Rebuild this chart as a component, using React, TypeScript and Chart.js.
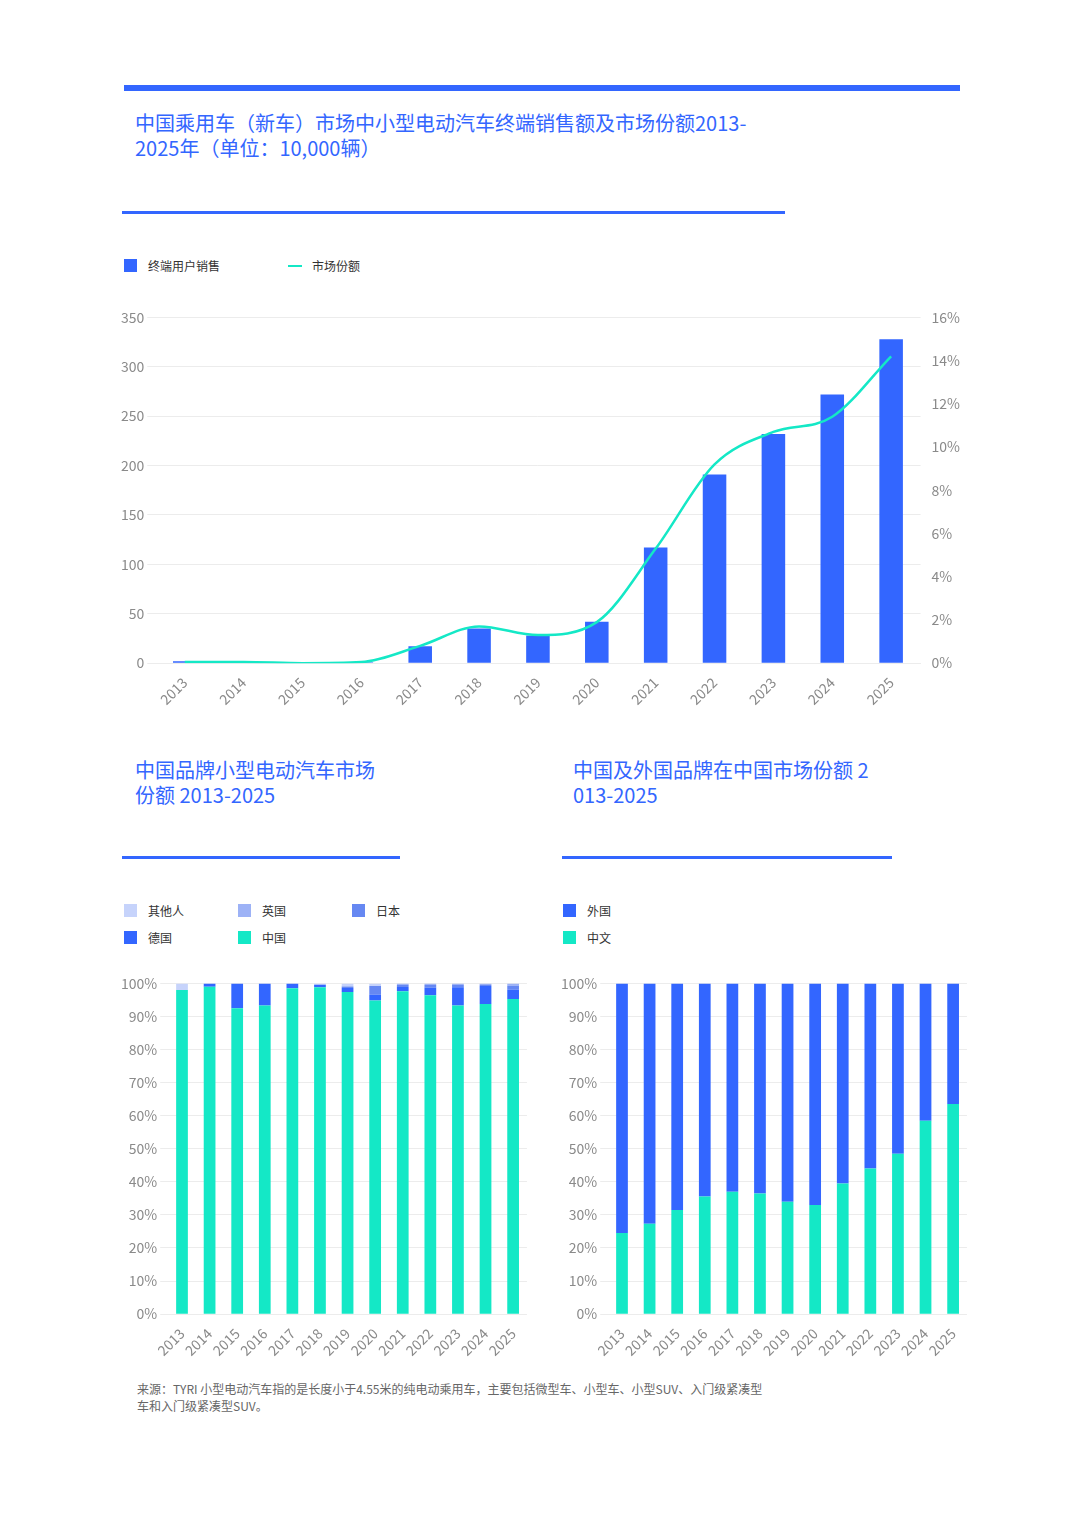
import React, { useEffect, useRef } from "react";
import { Chart, registerables } from "chart.js";
Chart.register(...registerables);

const years = ["2013","2014","2015","2016","2017","2018","2019","2020","2021","2022","2023","2024","2025"];
const sales = [2, 2, 1, 1, 17, 35, 28, 42, 117, 191, 232, 272, 328];
const share = [0.05, 0.05, 0, 0.05, 0.8, 1.7, 1.3, 1.9, 5.3, 9.2, 10.7, 11.4, 14.2];

const cnBrand = [98, 99, 92.5, 93.3, 98.5, 98.8, 97.4, 94.8, 97.6, 96.4, 93.3, 93.8, 95.3];
const deBrand = [0, 1, 7.5, 6.7, 1.5, 0.8, 1.2, 1.8, 1.3, 2.3, 5.5, 5.4, 2.8];
const jpBrand = [0, 0, 0, 0, 0, 0, 0.5, 2.6, 0.7, 0.8, 0.7, 0.5, 1.2];
const ukBrand = [0, 0, 0, 0, 0, 0, 0, 0, 0.4, 0.5, 0.5, 0.3, 0.7];
const otherBrand = [2, 0, 0, 0, 0, 0.4, 0.9, 0.8, 0, 0, 0, 0, 0];

const chinese = [24.5, 27.3, 31.5, 35.6, 37, 36.5, 34, 33, 39.5, 44, 48.5, 58.5, 63.5];
const foreign = chinese.map((v) => 100 - v);

const BLUE = "#3366FF";
const TEAL = "#14E8C6";
const JP = "#6688F2";
const UK = "#9DB2F6";
const OTHER = "#C6D3FB";
const FONT = "'Noto Sans CJK SC', 'Noto Sans', sans-serif";
const GRID = "#ececec";
const TICK = "#8a8a8a";

function useChart(ref: React.RefObject<HTMLCanvasElement>, cfg: () => any) {
  useEffect(() => {
    const c = new Chart(ref.current!, cfg());
    return () => c.destroy();
  }, []);
}

function MainChart() {
  const ref = useRef<HTMLCanvasElement>(null);
  useChart(ref, () => ({
    type: "bar",
    data: {
      labels: years,
      datasets: [
        { type: "line", data: share, yAxisID: "y2", borderColor: TEAL, borderWidth: 2.5, pointRadius: 0, cubicInterpolationMode: "monotone", order: 0 },
        { type: "bar", data: sales, yAxisID: "y", backgroundColor: BLUE, categoryPercentage: 0.8, barPercentage: 0.5, order: 1 },
      ],
    },
    options: {
      animation: false, responsive: false,
      plugins: { legend: { display: false }, tooltip: { enabled: false } },
      layout: { padding: { left: 0, right: 0, top: 8, bottom: 0 } },
      scales: {
        x: { grid: { display: false }, border: { color: GRID }, ticks: { color: TICK, font: { family: FONT, size: 14 }, maxRotation: 45, minRotation: 45 } },
        y: { min: 0, max: 350, ticks: { stepSize: 50, color: TICK, font: { family: FONT, size: 14 } }, grid: { color: GRID }, border: { display: false } },
        y2: { position: "right", min: 0, max: 16, ticks: { stepSize: 2, color: TICK, font: { family: FONT, size: 14 }, callback: (v: number) => v + "%" }, grid: { display: false }, border: { display: false } },
      },
    },
  }));
  return <canvas ref={ref} width={845} height={405} style={{ position: "absolute", left: 118, top: 306 }} />;
}

function StackChart({ left, datasets }: { left: number; datasets: any[] }) {
  const ref = useRef<HTMLCanvasElement>(null);
  useChart(ref, () => ({
    type: "bar",
    data: { labels: years, datasets },
    options: {
      animation: false, responsive: false,
      plugins: { legend: { display: false }, tooltip: { enabled: false } },
      layout: { padding: { top: 8 } },
      scales: {
        x: { stacked: true, grid: { display: false }, border: { display: false }, ticks: { autoSkip: false, color: TICK, font: { family: FONT, size: 14 }, maxRotation: 45, minRotation: 45 } },
        y: { stacked: true, min: 0, max: 100, ticks: { stepSize: 10, color: TICK, font: { family: FONT, size: 14 }, callback: (v: number) => v + "%" }, grid: { color: GRID }, border: { display: false } },
      },
    },
  }));
  return <canvas ref={ref} width={410} height={390} style={{ position: "absolute", left, top: 972 }} />;
}

const bar = (data: number[], color: string) => ({ data, backgroundColor: color, categoryPercentage: 0.85, barPercentage: 0.5 });

function Legend({ items, left, top, cols, gap }: { items: [string, string][]; left: number; top: number; cols: number; gap: number }) {
  return (
    <>
      {items.map(([label, color], i) => (
        <div key={i} style={{ position: "absolute", left: left + (i % cols) * gap, top: top + Math.floor(i / cols) * 27, display: "flex", alignItems: "center", fontSize: 12, color: "#333", fontFamily: FONT }}>
          <span style={{ width: 13, height: 13, background: color, display: "inline-block", marginRight: 11 }} />
          {label}
        </div>
      ))}
    </>
  );
}

export default function App() {
  const title: React.CSSProperties = { position: "absolute", color: BLUE, fontSize: 20, lineHeight: "25px", fontFamily: FONT, margin: 0 };
  const line = (l: number, t: number, w: number, h: number) => <div style={{ position: "absolute", left: l, top: t, width: w, height: h, background: BLUE }} />;
  return (
    <div style={{ position: "absolute", left: 0, top: 0, width: 1080, height: 1517, background: "#fff", fontFamily: FONT }}>
      {line(124, 85, 836, 6)}
      <div style={{ ...title, left: 135, top: 110, width: 680 }}>中国乘用车（新车）市场中小型电动汽车终端销售额及市场份额2013-<br />2025年（单位：10,000辆）</div>
      {line(122, 211, 663, 3)}
      <div style={{ position: "absolute", left: 124, top: 257, display: "flex", alignItems: "center", fontSize: 12, color: "#333" }}>
        <span style={{ width: 13, height: 13, background: BLUE, marginRight: 11 }} />终端用户销售
      </div>
      <div style={{ position: "absolute", left: 288, top: 257, display: "flex", alignItems: "center", fontSize: 12, color: "#333" }}>
        <span style={{ width: 14, height: 2, background: TEAL, marginRight: 10 }} />市场份额
      </div>
      <MainChart />
      <div style={{ ...title, left: 135, top: 757, width: 300 }}>中国品牌小型电动汽车市场<br />份额 2013-2025</div>
      {line(122, 856, 278, 3)}
      <div style={{ ...title, left: 573, top: 757, width: 340 }}>中国及外国品牌在中国市场份额 2<br />013-2025</div>
      {line(562, 856, 330, 3)}
      <Legend left={124} top={902} cols={3} gap={114} items={[["其他人", OTHER], ["英国", UK], ["日本", JP], ["德国", BLUE], ["中国", TEAL]]} />
      <Legend left={563} top={902} cols={1} gap={0} items={[["外国", BLUE], ["中文", TEAL]]} />
      <StackChart left={118} datasets={[bar(cnBrand, TEAL), bar(deBrand, BLUE), bar(jpBrand, JP), bar(ukBrand, UK), bar(otherBrand, OTHER)]} />
      <StackChart left={558} datasets={[bar(chinese, TEAL), bar(foreign, BLUE)]} />
      <div style={{ position: "absolute", left: 137, top: 1380, fontSize: 12, lineHeight: "17px", color: "#666", width: 760 }}>
        来源：TYRI 小型电动汽车指的是长度小于4.55米的纯电动乘用车，主要包括微型车、小型车、小型SUV、入门级紧凑型<br />车和入门级紧凑型SUV。
      </div>
    </div>
  );
}
